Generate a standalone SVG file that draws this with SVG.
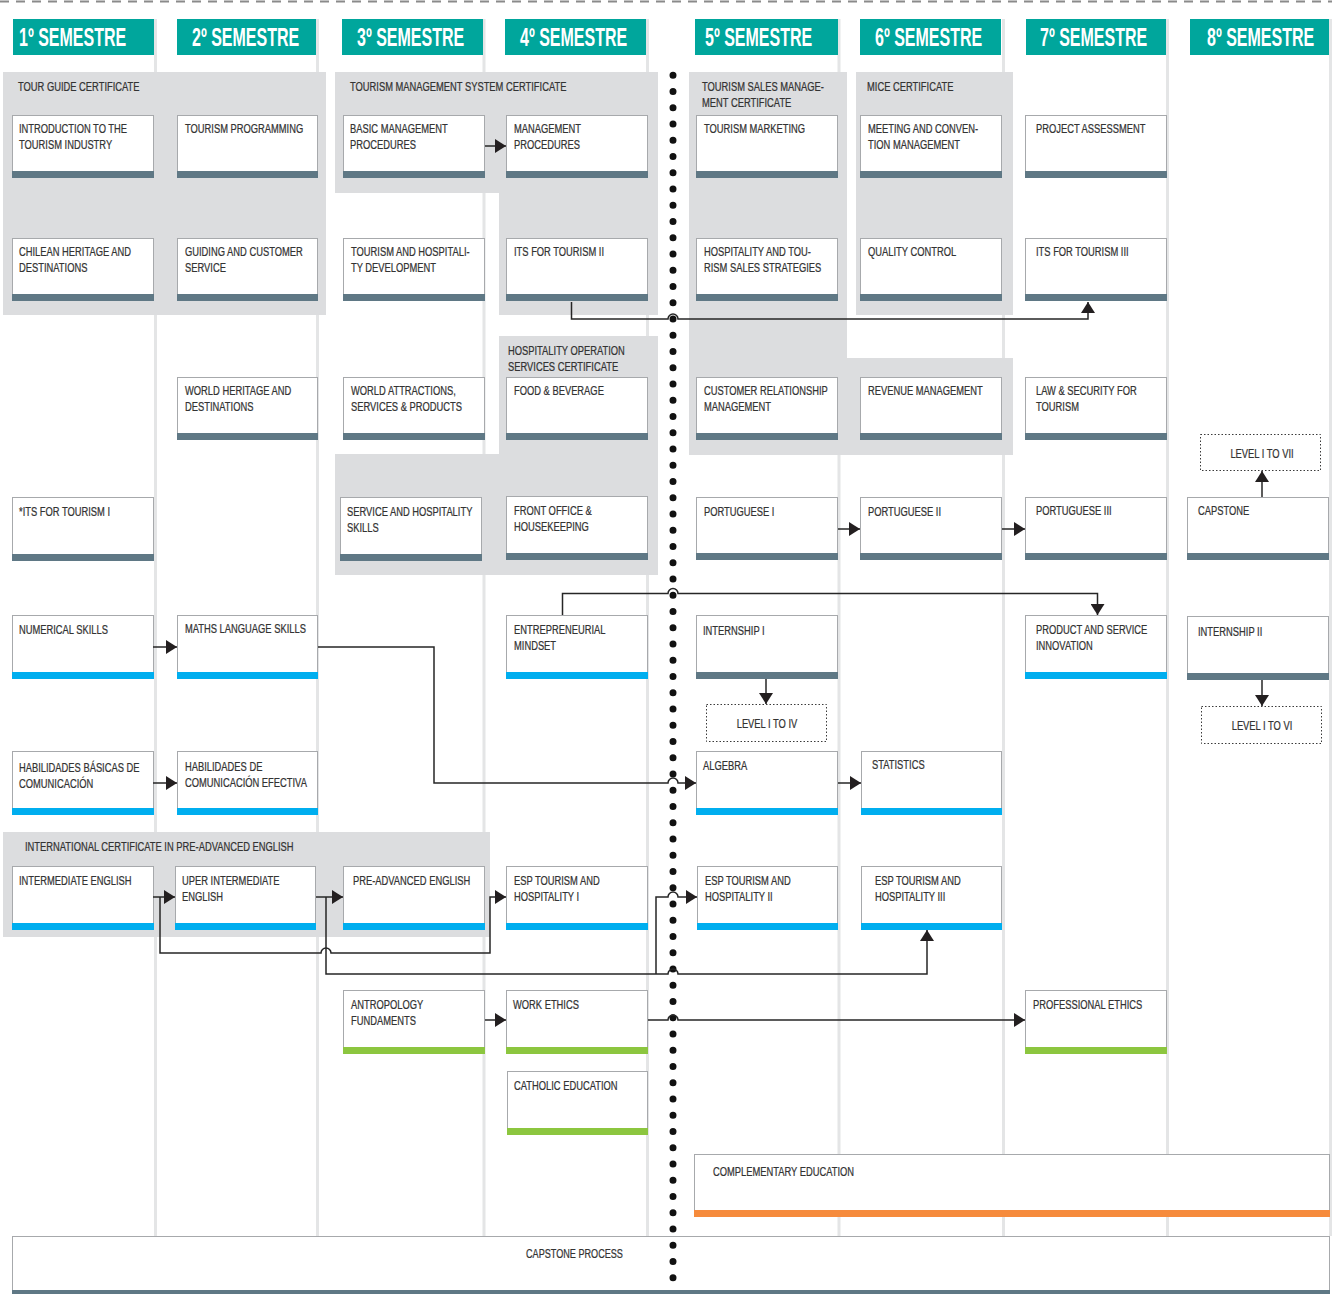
<svg xmlns="http://www.w3.org/2000/svg" width="1332" height="1294" viewBox="0 0 1332 1294">
<defs>
<style>
.sep{stroke:#e4e5e6;stroke-width:3}
.panel{fill:#dcdddf}
.hdr{fill:#00a69c}
.ht{font-family:"Liberation Sans",Arial,sans-serif;font-weight:bold;font-size:25px;fill:#fff}
.box{fill:#fff;stroke:#a7a9ac;stroke-width:1}
.t{font-family:"Liberation Sans",Arial,sans-serif;font-size:13px;fill:#333;stroke:#333;stroke-width:.25}
.bs{fill:#5f7885}.bb{fill:#00aeef}.bg{fill:#8cc63f}.bo{fill:#f68b3c}
.c{fill:none;stroke:#262626;stroke-width:1.5}
.lv{fill:#fff;stroke:#3a3a3a;stroke-width:1;stroke-dasharray:1.5 2}
</style>
<marker id="ah" viewBox="0 0 11 14" refX="11" refY="7" markerWidth="11" markerHeight="14" markerUnits="userSpaceOnUse" orient="auto"><path d="M0,0 L11,7 L0,14 Z" fill="#231f20"/></marker>
</defs>
<rect width="1332" height="1294" fill="#fff"/>
<line x1="0" y1="1.5" x2="1332" y2="1.5" stroke="#8a8a8a" stroke-width="2" stroke-dasharray="9 7"/>

<g id="separators">
<line class="sep" x1="155.5" y1="19" x2="155.5" y2="1236"/>
<line class="sep" x1="317.5" y1="19" x2="317.5" y2="1236"/>
<line class="sep" x1="484" y1="19" x2="484" y2="1236"/>
<line class="sep" x1="647.5" y1="19" x2="647.5" y2="1236"/>
<line class="sep" x1="839" y1="19" x2="839" y2="1236"/>
<line class="sep" x1="1003.5" y1="19" x2="1003.5" y2="1236"/>
<line class="sep" x1="1167.5" y1="19" x2="1167.5" y2="1236"/>
<line class="sep" x1="1330.5" y1="19" x2="1330.5" y2="1236"/>
</g>

<g id="headers">
<rect class="hdr" x="13" y="19" width="141" height="36"/><text class="ht" transform="translate(19 46) scale(.64 1)">1º SEMESTRE</text>
<rect class="hdr" x="177" y="19" width="139" height="36"/><text class="ht" transform="translate(192 46) scale(.64 1)">2º SEMESTRE</text>
<rect class="hdr" x="342" y="19" width="141" height="36"/><text class="ht" transform="translate(357 46) scale(.64 1)">3º SEMESTRE</text>
<rect class="hdr" x="505" y="19" width="141" height="36"/><text class="ht" transform="translate(520 46) scale(.64 1)">4º SEMESTRE</text>
<rect class="hdr" x="695" y="19" width="143" height="36"/><text class="ht" transform="translate(705 46) scale(.64 1)">5º SEMESTRE</text>
<rect class="hdr" x="860" y="19" width="141" height="36"/><text class="ht" transform="translate(875 46) scale(.64 1)">6º SEMESTRE</text>
<rect class="hdr" x="1026" y="19" width="140" height="36"/><text class="ht" transform="translate(1040 46) scale(.64 1)">7º SEMESTRE</text>
<rect class="hdr" x="1190" y="19" width="139" height="36"/><text class="ht" transform="translate(1207 46) scale(.64 1)">8º SEMESTRE</text>
</g>

<g id="panels">
<g id="p-tourguide"><rect class="panel" x="3" y="72" width="323" height="243"/><text class="t" transform="translate(18 91) scale(.72 1)">TOUR GUIDE CERTIFICATE</text></g>
<g id="p-tms"><path class="panel" d="M335,72 H658 V315 H499 V193 H335 Z"/><text class="t" transform="translate(350 91) scale(.72 1)">TOURISM MANAGEMENT SYSTEM CERTIFICATE</text></g>
<g id="p-sales"><path class="panel" d="M689,72 H847 V358 H1013 V455 H689 Z"/><text class="t" transform="translate(702 91) scale(.72 1)">TOURISM SALES MANAGE-<tspan x="0" dy="16">MENT CERTIFICATE</tspan></text></g>
<g id="p-mice"><rect class="panel" x="856" y="72" width="157" height="243"/><text class="t" transform="translate(867 91) scale(.72 1)">MICE CERTIFICATE</text></g>
<g id="p-hos"><path class="panel" d="M499,336 H658 V575 H335 V454 H499 Z"/><text class="t" transform="translate(508 355) scale(.72 1)">HOSPITALITY OPERATION<tspan x="0" dy="16">SERVICES CERTIFICATE</tspan></text></g>
<g id="p-english"><rect class="panel" x="3" y="832" width="487" height="105"/><text class="t" transform="translate(25 851) scale(.72 1)">INTERNATIONAL CERTIFICATE IN PRE-ADVANCED ENGLISH</text></g>
</g>

<g id="nodes">
<g id="n-intro"><rect class="box" x="12.5" y="115.5" width="141" height="62"/><rect class="bs" x="12" y="171" width="142" height="7"/><text class="t" transform="translate(19 133) scale(.72 1)">INTRODUCTION TO THE<tspan x="0" dy="16">TOURISM INDUSTRY</tspan></text></g>
<g id="n-tprog"><rect class="box" x="177.5" y="115.5" width="140" height="62"/><rect class="bs" x="177" y="171" width="141" height="7"/><text class="t" transform="translate(185 133) scale(.72 1)">TOURISM PROGRAMMING</text></g>
<g id="n-basic"><rect class="box" x="343.5" y="115.5" width="141" height="62"/><rect class="bs" x="343" y="171" width="142" height="7"/><text class="t" transform="translate(350 133) scale(.72 1)">BASIC MANAGEMENT<tspan x="0" dy="16">PROCEDURES</tspan></text></g>
<g id="n-mgmtproc"><rect class="box" x="506.5" y="115.5" width="141" height="62"/><rect class="bs" x="506" y="171" width="142" height="7"/><text class="t" transform="translate(514 133) scale(.72 1)">MANAGEMENT<tspan x="0" dy="16">PROCEDURES</tspan></text></g>
<g id="n-tmkt"><rect class="box" x="696.5" y="115.5" width="141" height="62"/><rect class="bs" x="696" y="171" width="142" height="7"/><text class="t" transform="translate(704 133) scale(.72 1)">TOURISM MARKETING</text></g>
<g id="n-meeting"><rect class="box" x="860.5" y="115.5" width="141" height="62"/><rect class="bs" x="860" y="171" width="142" height="7"/><text class="t" transform="translate(868 133) scale(.72 1)">MEETING AND CONVEN-<tspan x="0" dy="16">TION MANAGEMENT</tspan></text></g>
<g id="n-project"><rect class="box" x="1025.5" y="115.5" width="141" height="62"/><rect class="bs" x="1025" y="171" width="142" height="7"/><text class="t" transform="translate(1036 133) scale(.72 1)">PROJECT ASSESSMENT</text></g>

<g id="n-chilean"><rect class="box" x="12.5" y="238.5" width="141" height="62"/><rect class="bs" x="12" y="294" width="142" height="7"/><text class="t" transform="translate(19 256) scale(.72 1)">CHILEAN HERITAGE AND<tspan x="0" dy="16">DESTINATIONS</tspan></text></g>
<g id="n-guiding"><rect class="box" x="177.5" y="238.5" width="140" height="62"/><rect class="bs" x="177" y="294" width="141" height="7"/><text class="t" transform="translate(185 256) scale(.72 1)">GUIDING AND CUSTOMER<tspan x="0" dy="16">SERVICE</tspan></text></g>
<g id="n-thdev"><rect class="box" x="343.5" y="238.5" width="141" height="62"/><rect class="bs" x="343" y="294" width="142" height="7"/><text class="t" transform="translate(351 256) scale(.72 1)">TOURISM AND HOSPITALI-<tspan x="0" dy="16">TY DEVELOPMENT</tspan></text></g>
<g id="n-its2"><rect class="box" x="506.5" y="238.5" width="141" height="62"/><rect class="bs" x="506" y="294" width="142" height="7"/><text class="t" transform="translate(514 256) scale(.72 1)">ITS FOR TOURISM II</text></g>
<g id="n-hts"><rect class="box" x="696.5" y="238.5" width="141" height="62"/><rect class="bs" x="696" y="294" width="142" height="7"/><text class="t" transform="translate(704 256) scale(.72 1)">HOSPITALITY AND TOU-<tspan x="0" dy="16">RISM SALES STRATEGIES</tspan></text></g>
<g id="n-qc"><rect class="box" x="860.5" y="238.5" width="141" height="62"/><rect class="bs" x="860" y="294" width="142" height="7"/><text class="t" transform="translate(868 256) scale(.72 1)">QUALITY CONTROL</text></g>
<g id="n-its3"><rect class="box" x="1025.5" y="238.5" width="141" height="62"/><rect class="bs" x="1025" y="294" width="142" height="7"/><text class="t" transform="translate(1036 256) scale(.72 1)">ITS FOR TOURISM III</text></g>

<g id="n-whd"><rect class="box" x="177.5" y="377.5" width="140" height="62"/><rect class="bs" x="177" y="433" width="141" height="7"/><text class="t" transform="translate(185 395) scale(.72 1)">WORLD HERITAGE AND<tspan x="0" dy="16">DESTINATIONS</tspan></text></g>
<g id="n-wasp"><rect class="box" x="343.5" y="377.5" width="141" height="62"/><rect class="bs" x="343" y="433" width="142" height="7"/><text class="t" transform="translate(351 395) scale(.72 1)">WORLD ATTRACTIONS,<tspan x="0" dy="16">SERVICES &amp; PRODUCTS</tspan></text></g>
<g id="n-fb"><rect class="box" x="506.5" y="377.5" width="141" height="62"/><rect class="bs" x="506" y="433" width="142" height="7"/><text class="t" transform="translate(514 395) scale(.72 1)">FOOD &amp; BEVERAGE</text></g>
<g id="n-crm"><rect class="box" x="696.5" y="377.5" width="141" height="62"/><rect class="bs" x="696" y="433" width="142" height="7"/><text class="t" transform="translate(704 395) scale(.72 1)">CUSTOMER RELATIONSHIP<tspan x="0" dy="16">MANAGEMENT</tspan></text></g>
<g id="n-rev"><rect class="box" x="860.5" y="377.5" width="141" height="62"/><rect class="bs" x="860" y="433" width="142" height="7"/><text class="t" transform="translate(868 395) scale(.72 1)">REVENUE MANAGEMENT</text></g>
<g id="n-law"><rect class="box" x="1025.5" y="377.5" width="141" height="62"/><rect class="bs" x="1025" y="433" width="142" height="7"/><text class="t" transform="translate(1036 395) scale(.72 1)">LAW &amp; SECURITY FOR<tspan x="0" dy="16">TOURISM</tspan></text></g>
<g id="n-lvl7"><rect class="lv" x="1200.5" y="434.5" width="120" height="36"/><text class="t" text-anchor="middle" transform="translate(1262 458) scale(.72 1)">LEVEL I TO VII</text></g>

<g id="n-its1"><rect class="box" x="12.5" y="497.5" width="141" height="62"/><rect class="bs" x="12" y="554" width="142" height="7"/><text class="t" transform="translate(19 516) scale(.72 1)">*ITS FOR TOURISM I</text></g>
<g id="n-shs"><rect class="box" x="340.5" y="497.5" width="141" height="62"/><rect class="bs" x="340" y="554" width="142" height="7"/><text class="t" transform="translate(347 516) scale(.72 1)">SERVICE AND HOSPITALITY<tspan x="0" dy="16">SKILLS</tspan></text></g>
<g id="n-fo"><rect class="box" x="506.5" y="496.5" width="141" height="62"/><rect class="bs" x="506" y="553" width="142" height="7"/><text class="t" transform="translate(514 515) scale(.72 1)">FRONT OFFICE &amp;<tspan x="0" dy="16">HOUSEKEEPING</tspan></text></g>
<g id="n-pt1"><rect class="box" x="696.5" y="497.5" width="141" height="62"/><rect class="bs" x="696" y="553" width="142" height="7"/><text class="t" transform="translate(704 516) scale(.72 1)">PORTUGUESE I</text></g>
<g id="n-pt2"><rect class="box" x="860.5" y="497.5" width="141" height="62"/><rect class="bs" x="860" y="553" width="142" height="7"/><text class="t" transform="translate(868 516) scale(.72 1)">PORTUGUESE II</text></g>
<g id="n-pt3"><rect class="box" x="1025.5" y="497.5" width="141" height="62"/><rect class="bs" x="1025" y="553" width="142" height="7"/><text class="t" transform="translate(1036 515) scale(.72 1)">PORTUGUESE III</text></g>
<g id="n-capstone"><rect class="box" x="1187.5" y="497.5" width="141" height="62"/><rect class="bs" x="1187" y="553" width="142" height="7"/><text class="t" transform="translate(1198 515) scale(.72 1)">CAPSTONE</text></g>

<g id="n-num"><rect class="box" x="12.5" y="615.5" width="141" height="62"/><rect class="bb" x="12" y="672" width="142" height="7"/><text class="t" transform="translate(19 634) scale(.72 1)">NUMERICAL SKILLS</text></g>
<g id="n-maths"><rect class="box" x="177.5" y="615.5" width="140" height="62"/><rect class="bb" x="177" y="672" width="141" height="7"/><text class="t" transform="translate(185 633) scale(.72 1)">MATHS LANGUAGE SKILLS</text></g>
<g id="n-entre"><rect class="box" x="506.5" y="615.5" width="141" height="62"/><rect class="bb" x="506" y="672" width="142" height="7"/><text class="t" transform="translate(514 634) scale(.72 1)">ENTREPRENEURIAL<tspan x="0" dy="16">MINDSET</tspan></text></g>
<g id="n-intern1"><rect class="box" x="696.5" y="615.5" width="141" height="62"/><rect class="bs" x="696" y="672" width="142" height="7"/><text class="t" transform="translate(703 635) scale(.72 1)">INTERNSHIP I</text></g>
<g id="n-psi"><rect class="box" x="1025.5" y="615.5" width="141" height="62"/><rect class="bb" x="1025" y="672" width="142" height="7"/><text class="t" transform="translate(1036 634) scale(.72 1)">PRODUCT AND SERVICE<tspan x="0" dy="16">INNOVATION</tspan></text></g>
<g id="n-intern2"><rect class="box" x="1187.5" y="616.5" width="141" height="62"/><rect class="bs" x="1187" y="673" width="142" height="7"/><text class="t" transform="translate(1198 636) scale(.72 1)">INTERNSHIP II</text></g>
<g id="n-lvl4"><rect class="lv" x="706.5" y="704.5" width="120" height="37"/><text class="t" text-anchor="middle" transform="translate(767 728) scale(.72 1)">LEVEL I TO IV</text></g>
<g id="n-lvl6"><rect class="lv" x="1201.5" y="706.5" width="120" height="37"/><text class="t" text-anchor="middle" transform="translate(1262 730) scale(.72 1)">LEVEL I TO VI</text></g>

<g id="n-hbc"><rect class="box" x="12.5" y="751.5" width="141" height="62"/><rect class="bb" x="12" y="808" width="142" height="7"/><text class="t" transform="translate(19 772) scale(.72 1)">HABILIDADES BÁSICAS DE<tspan x="0" dy="16">COMUNICACIÓN</tspan></text></g>
<g id="n-hce"><rect class="box" x="177.5" y="751.5" width="140" height="62"/><rect class="bb" x="177" y="808" width="141" height="7"/><text class="t" transform="translate(185 771) scale(.72 1)">HABILIDADES DE<tspan x="0" dy="16">COMUNICACIÓN EFECTIVA</tspan></text></g>
<g id="n-algebra"><rect class="box" x="696.5" y="751.5" width="141" height="62"/><rect class="bb" x="696" y="808" width="142" height="7"/><text class="t" transform="translate(703 770) scale(.72 1)">ALGEBRA</text></g>
<g id="n-stats"><rect class="box" x="861.5" y="751.5" width="140" height="62"/><rect class="bb" x="861" y="808" width="141" height="7"/><text class="t" transform="translate(872 769) scale(.72 1)">STATISTICS</text></g>

<g id="n-ie"><rect class="box" x="12.5" y="866.5" width="141" height="62"/><rect class="bb" x="12" y="923" width="142" height="7"/><text class="t" transform="translate(19 885) scale(.72 1)">INTERMEDIATE ENGLISH</text></g>
<g id="n-uie"><rect class="box" x="175.5" y="866.5" width="140" height="62"/><rect class="bb" x="175" y="923" width="141" height="7"/><text class="t" transform="translate(182 885) scale(.72 1)">UPER INTERMEDIATE<tspan x="0" dy="16">ENGLISH</tspan></text></g>
<g id="n-pae"><rect class="box" x="343.5" y="866.5" width="141" height="62"/><rect class="bb" x="343" y="923" width="142" height="7"/><text class="t" transform="translate(353 885) scale(.72 1)">PRE-ADVANCED ENGLISH</text></g>
<g id="n-esp1"><rect class="box" x="506.5" y="866.5" width="141" height="62"/><rect class="bb" x="506" y="923" width="142" height="7"/><text class="t" transform="translate(514 885) scale(.72 1)">ESP TOURISM AND<tspan x="0" dy="16">HOSPITALITY I</tspan></text></g>
<g id="n-esp2"><rect class="box" x="697.5" y="866.5" width="140" height="62"/><rect class="bb" x="697" y="923" width="141" height="7"/><text class="t" transform="translate(705 885) scale(.72 1)">ESP TOURISM AND<tspan x="0" dy="16">HOSPITALITY II</tspan></text></g>
<g id="n-esp3"><rect class="box" x="861.5" y="866.5" width="140" height="62"/><rect class="bb" x="861" y="923" width="141" height="7"/><text class="t" transform="translate(875 885) scale(.72 1)">ESP TOURISM AND<tspan x="0" dy="16">HOSPITALITY III</tspan></text></g>

<g id="n-anth"><rect class="box" x="343.5" y="990.5" width="141" height="62"/><rect class="bg" x="343" y="1047" width="142" height="7"/><text class="t" transform="translate(351 1009) scale(.72 1)">ANTROPOLOGY<tspan x="0" dy="16">FUNDAMENTS</tspan></text></g>
<g id="n-we"><rect class="box" x="506.5" y="990.5" width="141" height="62"/><rect class="bg" x="506" y="1047" width="142" height="7"/><text class="t" transform="translate(513 1009) scale(.72 1)">WORK ETHICS</text></g>
<g id="n-pe"><rect class="box" x="1025.5" y="990.5" width="141" height="62"/><rect class="bg" x="1025" y="1047" width="142" height="7"/><text class="t" transform="translate(1033 1009) scale(.72 1)">PROFESSIONAL ETHICS</text></g>
<g id="n-catholic"><rect class="box" x="507.5" y="1071.5" width="140" height="62"/><rect class="bg" x="507" y="1128" width="141" height="7"/><text class="t" transform="translate(514 1090) scale(.72 1)">CATHOLIC EDUCATION</text></g>

<g id="n-complementary"><rect class="box" x="694.5" y="1154.5" width="635" height="62"/><rect class="bo" x="694" y="1210" width="636" height="7"/><text class="t" transform="translate(713 1176) scale(.72 1)">COMPLEMENTARY EDUCATION</text></g>
<g id="n-capstoneprocess"><rect class="box" x="12.5" y="1236.5" width="1317" height="62"/><rect class="bs" x="12" y="1290" width="1318" height="4"/><text class="t" transform="translate(526 1258) scale(.7 1)">CAPSTONE PROCESS</text></g>
</g>

<g id="divider">
<line x1="673" y1="75.3" x2="673" y2="1294" stroke="#111" stroke-width="7" stroke-linecap="round" stroke-dasharray="0 16.25"/>
</g>

<g id="connectors">
<path class="c" d="M485,146 H506" marker-end="url(#ah)"/>
<path class="c" d="M571.5,302 V319 H668 a5,5 0 0 1 10,0 H1088 V302" marker-end="url(#ah)"/>
<path class="c" d="M838,529 H860" marker-end="url(#ah)"/>
<path class="c" d="M1002,529 H1025" marker-end="url(#ah)"/>
<path class="c" d="M1262,497 V471" marker-end="url(#ah)"/>
<path class="c" d="M562.5,615 V593.5 H668 a5,5 0 0 1 10,0 H1097.5 V615" marker-end="url(#ah)"/>
<path class="c" d="M153,647 H177" marker-end="url(#ah)"/>
<path class="c" d="M318,647 H434 V783 H668 a5,5 0 0 1 10,0 H696" marker-end="url(#ah)"/>
<path class="c" d="M766,679 V704" marker-end="url(#ah)"/>
<path class="c" d="M1262,680 V706" marker-end="url(#ah)"/>
<path class="c" d="M153,783 H177" marker-end="url(#ah)"/>
<path class="c" d="M838,783 H861" marker-end="url(#ah)"/>
<path class="c" d="M153,897 H175" marker-end="url(#ah)"/>
<path class="c" d="M160,897 V953 H321 a5,5 0 0 1 10,0 H490 V897 H506" marker-end="url(#ah)"/>
<path class="c" d="M316,897 H343" marker-end="url(#ah)"/>
<path class="c" d="M326,897 V974 H668 a5,5 0 0 1 10,0 H927 V930" marker-end="url(#ah)"/>
<path class="c" d="M656,974 V897 H668 a5,5 0 0 1 10,0 H697" marker-end="url(#ah)"/>
<path class="c" d="M485,1020 H506" marker-end="url(#ah)"/>
<path class="c" d="M648,1020 H668 a5,5 0 0 1 10,0 H1025" marker-end="url(#ah)"/>
</g>
</svg>
